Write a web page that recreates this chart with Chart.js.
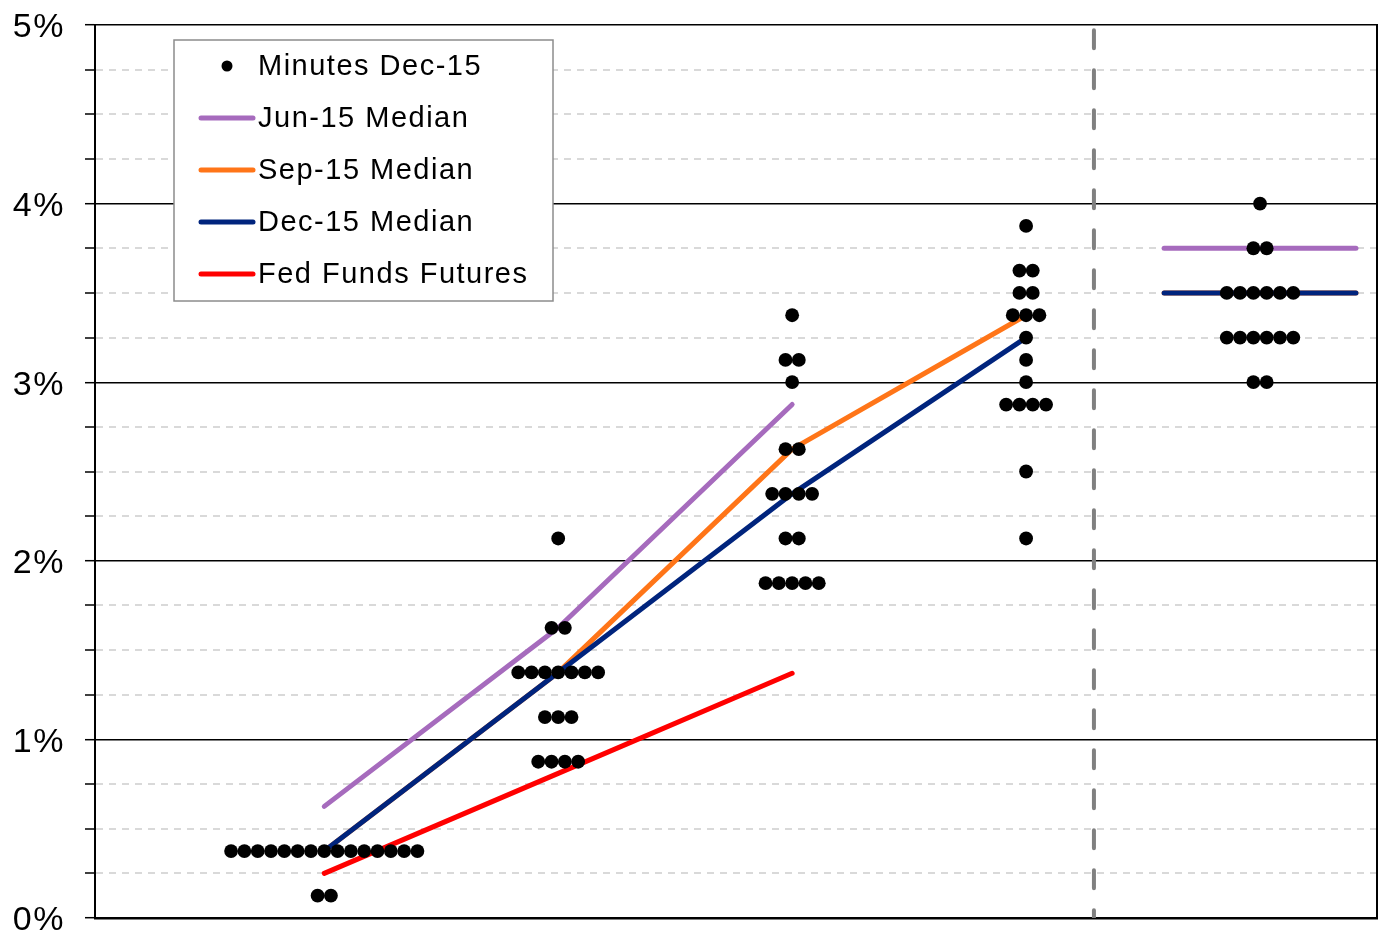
<!DOCTYPE html>
<html><head><meta charset="utf-8">
<script src="https://cdn.jsdelivr.net/npm/chart.js@4.4.1/dist/chart.umd.min.js"></script>
<style>html,body{margin:0;padding:0;background:#fff;}#wrap{width:1386px;height:933px;position:relative;}</style>
</head><body><div id="wrap"><canvas id="c"></canvas></div>
<script>
// ---- data ----
const periods = ['2015', '2016', '2017', '2018', 'Longer run'];
const periodX = [1, 2, 3, 4, 5];
const dots2015 = [0.125, 0.125, 0.375, 0.375, 0.375, 0.375, 0.375, 0.375, 0.375, 0.375, 0.375, 0.375, 0.375, 0.375, 0.375, 0.375, 0.375];
const dots2016 = [0.875, 0.875, 0.875, 0.875, 1.125, 1.125, 1.125, 1.375, 1.375, 1.375, 1.375, 1.375, 1.375, 1.375, 1.625, 1.625, 2.125];
const dots2017 = [1.875, 1.875, 1.875, 1.875, 1.875, 2.125, 2.125, 2.375, 2.375, 2.375, 2.375, 2.625, 2.625, 3.0, 3.125, 3.125, 3.375];
const dots2018 = [2.125, 2.5, 2.875, 2.875, 2.875, 2.875, 3.0, 3.125, 3.25, 3.375, 3.375, 3.375, 3.5, 3.5, 3.625, 3.625, 3.875];
const dotsLongerRun = [3.0, 3.0, 3.25, 3.25, 3.25, 3.25, 3.25, 3.25, 3.5, 3.5, 3.5, 3.5, 3.5, 3.5, 3.75, 3.75, 4.0];
const jun15Median = [0.625, 1.625, 2.875, null, 3.75];
const sep15Median = [0.375, 1.375, 2.625, 3.375, 3.5];
const dec15Median = [0.375, 1.375, 2.375, 3.25, 3.5];
const fedFundsFutures = [0.25, 0.81, 1.37, null, null];
const yTickLabels = ['0%', '1%', '2%', '3%', '4%', '5%'];
const dividerX = 4.29;

// ---- layout constants ----
const dotStep = 0.0569;   // horizontal spacing between dots (x units)
const lrHalf = 0.41;      // half width of longer-run median bars

const dotSets = [dots2015, dots2016, dots2017, dots2018, dotsLongerRun];
const dotPoints = [];
dotSets.forEach((vals, pi) => {
  const counts = {};
  vals.forEach(v => { counts[v] = (counts[v] || 0) + 1; });
  Object.keys(counts).forEach(k => {
    const n = counts[k];
    for (let i = 0; i < n; i++) dotPoints.push({ x: periodX[pi] + (i - (n - 1) / 2) * dotStep, y: parseFloat(k) });
  });
});
function pathPoints(arr) {
  const pts = [];
  for (let i = 0; i < 4; i++) if (arr[i] !== null) pts.push({ x: periodX[i], y: arr[i] });
  return pts;
}
function lrPoints(arr) {
  return arr[4] === null ? [] : [{ x: periodX[4] - lrHalf, y: arr[4] }, { x: periodX[4] + lrHalf, y: arr[4] }];
}
const C = { jun: '#a66bbd', sep: '#ff7518', dec: '#00247d', fff: '#ff0000' };
const LW = 5;
function lineDs(label, data, color, rank) {
  return { label, data, showLine: true, borderColor: color, backgroundColor: color, borderWidth: LW,
    borderCapStyle: 'round', borderJoinStyle: 'round', pointRadius: 0, pointHoverRadius: 0, legendRank: rank, legend: rank ? 'line' : null };
}
const datasets = [
  { label: 'Minutes Dec-15', data: dotPoints, showLine: false, pointRadius: 6.9, pointBorderWidth: 0,
    pointBackgroundColor: '#000', backgroundColor: '#000', borderColor: '#000', legend: 'dot', legendRank: 1 },
  lineDs('Fed Funds Futures', pathPoints(fedFundsFutures), C.fff, 5),
  lineDs('Dec-15 Median', pathPoints(dec15Median), C.dec, 4),
  lineDs('Dec-15 Median LR', lrPoints(dec15Median), C.dec, 0),
  lineDs('Sep-15 Median', pathPoints(sep15Median), C.sep, 3),
  lineDs('Sep-15 Median LR', lrPoints(sep15Median), C.sep, 0),
  lineDs('Jun-15 Median', pathPoints(jun15Median), C.jun, 2),
  lineDs('Jun-15 Median LR', lrPoints(jun15Median), C.jun, 0),
  { label: 'divider', data: [{ x: dividerX, y: 4.97 }, { x: dividerX, y: 0 }], showLine: true, borderColor: '#808080',
    borderWidth: 4, borderDash: [18, 22], borderCapStyle: 'round', pointRadius: 0, legend: null }
];

const FONT = '"Liberation Sans", Arial, sans-serif';
const isMajor = v => Math.abs(v - Math.round(v)) < 1e-6;

const spacingPlugin = {
  id: 'spacing',
  beforeDraw(chart) { chart.ctx.letterSpacing = '1.5px'; }
};
const boxLegend = {
  id: 'boxLegend',
  afterDraw(chart) {
    const ctx = chart.ctx, ca = chart.chartArea;
    ctx.letterSpacing = '0px';
    const L = ca.left + 79, T = ca.top + 15, W = 379, H = 261;
    ctx.save();
    ctx.fillStyle = '#fff'; ctx.fillRect(L, T, W, H);
    ctx.strokeStyle = '#8c8c8c'; ctx.lineWidth = 1.5; ctx.strokeRect(L, T, W, H);
    ctx.letterSpacing = '1.5px';
    const items = chart.data.datasets.filter(d => d.legend).sort((a, b) => a.legendRank - b.legendRank);
    items.forEach((d, i) => {
      const y = T + 26 + i * 52;
      if (d.legend === 'dot') {
        ctx.beginPath(); ctx.arc(L + 53, y, 5.5, 0, Math.PI * 2); ctx.fillStyle = '#000'; ctx.fill();
      } else {
        ctx.beginPath(); ctx.moveTo(L + 27, y); ctx.lineTo(L + 79, y);
        ctx.lineWidth = LW; ctx.lineCap = 'round'; ctx.strokeStyle = d.borderColor; ctx.stroke();
      }
      ctx.fillStyle = '#000'; ctx.font = '29px ' + FONT; ctx.textAlign = 'left'; ctx.textBaseline = 'middle';
      ctx.fillText(d.label, L + 84, y + 1);
    });
    ctx.restore();
    ctx.letterSpacing = '0px';
  }
};

new Chart(document.getElementById('c'), {
  type: 'scatter',
  data: { datasets },
  plugins: [spacingPlugin, boxLegend],
  options: {
    responsive: true, maintainAspectRatio: false, animation: false, events: [],
    layout: { padding: { left: 0, right: 9, top: 25, bottom: 15 } },
    plugins: { legend: { display: false }, tooltip: { enabled: false } },
    scales: {
      x: {
        type: 'linear', min: 0.02, max: 5.5,
        ticks: { display: false }, grid: { display: false },
        border: { display: true, color: '#000', width: 2.5 },
        afterFit: s => { s.height = 0; s.paddingLeft = 0; s.paddingRight = 0; }
      },
      y: {
        type: 'linear', min: 0, max: 5,
        afterBuildTicks: s => { const t = []; for (let v = 0; v <= 5.0001; v += 0.25) t.push({ value: Math.round(v * 100) / 100 }); s.ticks = t; },
        ticks: {
          autoSkip: false, padding: 20, labelOffset: 3, color: '#000', font: { family: FONT, size: 34 },
          callback: v => isMajor(v) ? yTickLabels[Math.round(v)] : ''
        },
        grid: {
          color: c => isMajor(c.tick.value) ? '#000' : '#d9d9d9',
          lineWidth: c => isMajor(c.tick.value) ? 1.4 : 2,
          drawTicks: true, tickLength: 10, tickColor: '#000', tickWidth: 1.5, tickBorderDash: []
        },
        border: { display: true, color: '#000', width: 2, dash: c => (c.tick && !isMajor(c.tick.value)) ? [7, 6] : [] },
        afterFit: s => { s.width = 95; s.paddingTop = 0; s.paddingBottom = 0; }
      },
      y2: {
        type: 'linear', position: 'right', min: 0, max: 5,
        ticks: { display: false }, grid: { drawOnChartArea: false, drawTicks: false },
        border: { display: true, color: '#000', width: 2 },
        afterFit: s => { s.width = 0; s.paddingTop = 0; s.paddingBottom = 0; }
      }
    }
  }
});
</script></body></html>
